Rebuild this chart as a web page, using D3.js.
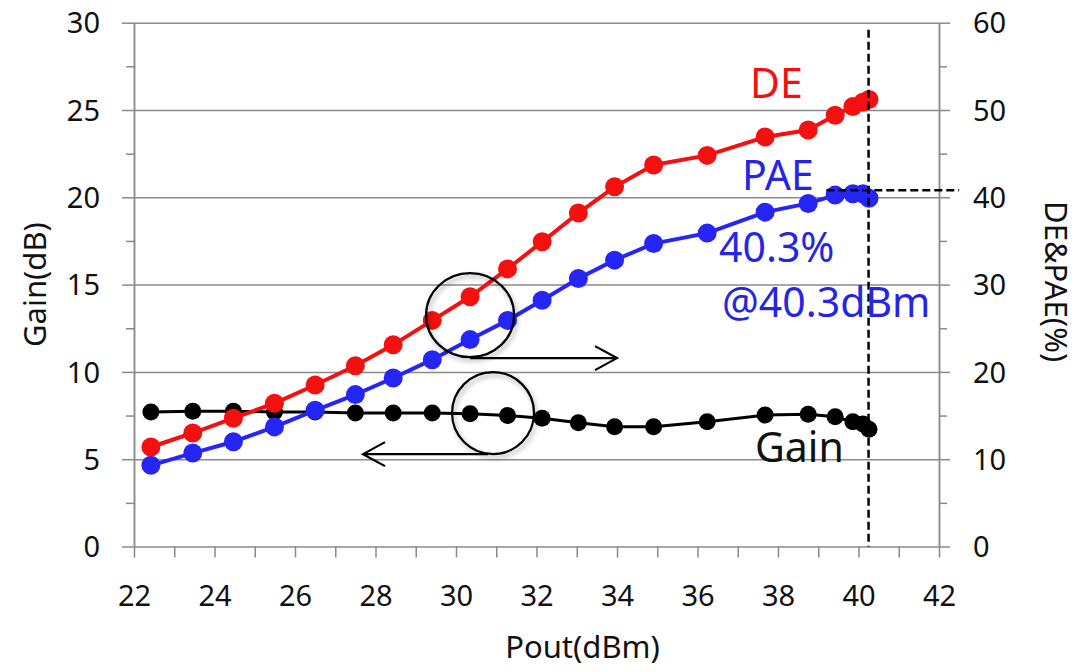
<!DOCTYPE html>
<html>
<head>
<meta charset="utf-8">
<script src="https://cdn.jsdelivr.net/npm/d3@7"></script>
<style>
  body { margin: 0; background: #fff; }
  svg { font-family: "Noto Sans", "Open Sans", sans-serif; }
  .axis path, .axis line { stroke: #8a8a8a; stroke-width: 1.5; }
  .grid line { stroke: #8a8a8a; stroke-width: 1.5; }
  .grid path { display: none; }
</style>
</head>
<body>
<svg width="1082" height="672"></svg>
<script>
// measured points
var pout = [22.42, 23.46, 24.47, 25.49, 26.5, 27.5, 28.44, 29.41, 30.35, 31.28, 32.14,
            33.04, 33.94, 34.91, 36.24, 37.68, 38.75, 39.42, 39.86, 40.11, 40.26];
var gain = [7.7, 7.75, 7.75, 7.7, 7.7, 7.65, 7.65, 7.65, 7.6, 7.5, 7.34,
            7.09, 6.86, 6.86, 7.14, 7.53, 7.58, 7.43, 7.14, 7.01, 6.71];
var de   = [11.4, 13.0, 14.7, 16.4, 18.5, 20.7, 23.1, 25.9, 28.6, 31.8, 34.9,
            38.2, 41.2, 43.7, 44.8, 46.9, 47.7, 49.4, 50.4, 50.9, 51.2];
var pae  = [9.3, 10.7, 12.0, 13.7, 15.6, 17.4, 19.3, 21.4, 23.7, 25.9, 28.2,
            30.7, 32.8, 34.7, 35.9, 38.3, 39.3, 40.25, 40.4, 40.4, 39.9];

var xTicks = d3.range(22, 43, 1);
var xLabels = d3.range(22, 43, 2);
var gainTicks = [0, 5, 10, 15, 20, 25, 30];
var gainMinor = [2.5, 7.5, 12.5, 17.5, 22.5, 27.5];
var effTicks = [0, 10, 20, 30, 40, 50, 60];
var effMinor = [5, 15, 25, 35, 45, 55];

var padL = 134, padR = 939, padT = 22.7, padB = 546.5;
var svg = d3.select('svg');

var x = d3.scaleLinear().domain([22, 42]).range([padL, padR]);
var yL = d3.scaleLinear().domain([0, 30]).range([padB, padT]);
var yR = d3.scaleLinear().domain([0, 60]).range([padB, padT]);

// gridlines
svg.append('g')
    .attr('class', 'grid')
    .attr('transform', `translate(${padL},0)`)
    .call(d3.axisLeft(yL).tickValues(gainTicks.slice(1)).tickSize(-(padR - padL)).tickFormat(''));

// left axis
svg.append('g')
    .attr('class', 'axis')
    .attr('transform', `translate(${padL},0)`)
    .call(d3.axisLeft(yL).tickValues(gainTicks).tickSize(12).tickSizeOuter(0).tickPadding(22));
svg.append('g')
    .attr('class', 'axis')
    .attr('transform', `translate(${padL},0)`)
    .call(d3.axisLeft(yL).tickValues(gainMinor).tickSize(8).tickSizeOuter(0).tickFormat(''));

// right axis
svg.append('g')
    .attr('class', 'axis')
    .attr('transform', `translate(${padR},0)`)
    .call(d3.axisRight(yR).tickValues(effTicks).tickSize(11).tickSizeOuter(0).tickPadding(23));
svg.append('g')
    .attr('class', 'axis')
    .attr('transform', `translate(${padR},0)`)
    .call(d3.axisRight(yR).tickValues(effMinor).tickSize(8).tickSizeOuter(0).tickFormat(''));

// bottom axis
var xAxisG = svg.append('g')
    .attr('class', 'axis')
    .attr('transform', `translate(0,${padB})`)
    .call(d3.axisBottom(x).tickValues(xTicks).tickSize(11).tickSizeOuter(0).tickPadding(26)
        .tickFormat(d => xLabels.indexOf(d) >= 0 ? d : ''));

svg.selectAll('.axis')
    .attr('font-family', null)
    .attr('font-size', null);
svg.selectAll('.axis text')
    .style('font-size', '29px')
    .attr('fill', '#111')
    .attr('dy', '0.35em');
xAxisG.selectAll('text').attr('dy', null).attr('y', 59);

// axis titles
svg.append('text')
    .attr('text-anchor', 'middle')
    .attr('transform', `translate(46,${(padT + padB) / 2}) rotate(-90)`)
    .style('font-size', '31px').attr('fill', '#111')
    .text('Gain(dB)');
svg.append('text')
    .attr('text-anchor', 'middle')
    .attr('transform', `translate(1045,${(padT + padB) / 2 - 3}) rotate(90)`)
    .style('font-size', '31px').attr('fill', '#111')
    .text('DE&PAE(%)');
svg.append('text')
    .attr('text-anchor', 'middle')
    .attr('x', (padL + padR) / 2 + 46).attr('y', 658)
    .style('font-size', '31px').attr('fill', '#111')
    .text('Pout(dBm)');

// series
var series = [
    {name: 'Gain', vals: gain, y: yL, color: '#000', width: 3, r: 8.5},
    {name: 'PAE', vals: pae, y: yR, color: '#2525f5', width: 4, r: 9.5},
    {name: 'DE', vals: de, y: yR, color: '#f51010', width: 4, r: 9.5}
];
series.forEach(function (s) {
    var line = d3.line().x((d, i) => x(pout[i])).y(d => s.y(d));
    svg.append('path')
        .attr('d', line(s.vals))
        .attr('fill', 'none')
        .attr('stroke', s.color)
        .attr('stroke-width', s.width);
    svg.append('g')
        .selectAll('circle')
        .data(s.vals)
        .enter()
        .append('circle')
        .attr('cx', (d, i) => x(pout[i]))
        .attr('cy', d => s.y(d))
        .attr('r', s.r)
        .attr('fill', s.color);
});

// dashed marker lines
svg.append('line')
    .attr('x1', x(40.25)).attr('x2', x(40.25))
    .attr('y1', yL(29.6)).attr('y2', yL(0))
    .attr('stroke', '#000').attr('stroke-width', 2.5).attr('stroke-dasharray', '8,4');
svg.append('line')
    .attr('x1', x(39.2)).attr('x2', x(42.5))
    .attr('y1', yR(40.8)).attr('y2', yR(40.8))
    .attr('stroke', '#000').attr('stroke-width', 2.5).attr('stroke-dasharray', '8,4');

// circles + arrows
var defs = svg.append('defs');
var f = defs.append('filter').attr('id', 'sh').attr('x', '-20%').attr('y', '-20%').attr('width', '140%').attr('height', '140%');
f.append('feGaussianBlur').attr('in', 'SourceAlpha').attr('stdDeviation', 2.5).attr('result', 'b');
f.append('feOffset').attr('in', 'b').attr('dx', 2).attr('dy', 3).attr('result', 'o');
f.append('feComponentTransfer').attr('in', 'o').attr('result', 'o2')
    .append('feFuncA').attr('type', 'linear').attr('slope', 0.35);
var m = f.append('feMerge');
m.append('feMergeNode').attr('in', 'o2');
m.append('feMergeNode').attr('in', 'SourceGraphic');

var rings = [
    {cx: 30.35, cy: 13.25, rx: 44, ry: 42},
    {cx: 30.92, cy: 7.64, rx: 41, ry: 41}
];
svg.append('g').selectAll('ellipse')
    .data(rings)
    .enter()
    .append('ellipse')
    .attr('cx', d => x(d.cx)).attr('cy', d => yL(d.cy))
    .attr('rx', d => d.rx).attr('ry', d => d.ry)
    .attr('fill', 'none').attr('stroke', '#000').attr('stroke-width', 2.2)
    .attr('filter', 'url(#sh)');

var arrows = [
    {x1: 30.35, x2: 34.0, y: 10.79},
    {x1: 30.8, x2: 27.69, y: 5.29}
];
arrows.forEach(function (a) {
    var x1 = x(a.x1), x2 = x(a.x2), yy = yL(a.y);
    var dir = x2 > x1 ? 1 : -1;
    svg.append('path')
        .attr('d', `M${x1},${yy}H${x2}M${x2 - dir * 22},${yy - 12}L${x2},${yy}L${x2 - dir * 22},${yy + 12}`)
        .attr('fill', 'none').attr('stroke', '#000').attr('stroke-width', 2.2);
});

// labels
var notes = [
    {t: 'DE', x: 750, y: 98, c: '#f51010'},
    {t: 'PAE', x: 742, y: 190, c: '#2525e5'},
    {t: '40.3%', x: 719, y: 262, c: '#2525e5'},
    {t: '@40.3dBm', x: 722, y: 317, c: '#2525e5'},
    {t: 'Gain', x: 755, y: 462, c: '#111'}
];
svg.append('g').selectAll('text')
    .data(notes)
    .enter()
    .append('text')
    .attr('x', d => d.x).attr('y', d => d.y)
    .attr('fill', d => d.c)
    .style('font-size', '41px')
    .text(d => d.t);
</script>
</body>
</html>
